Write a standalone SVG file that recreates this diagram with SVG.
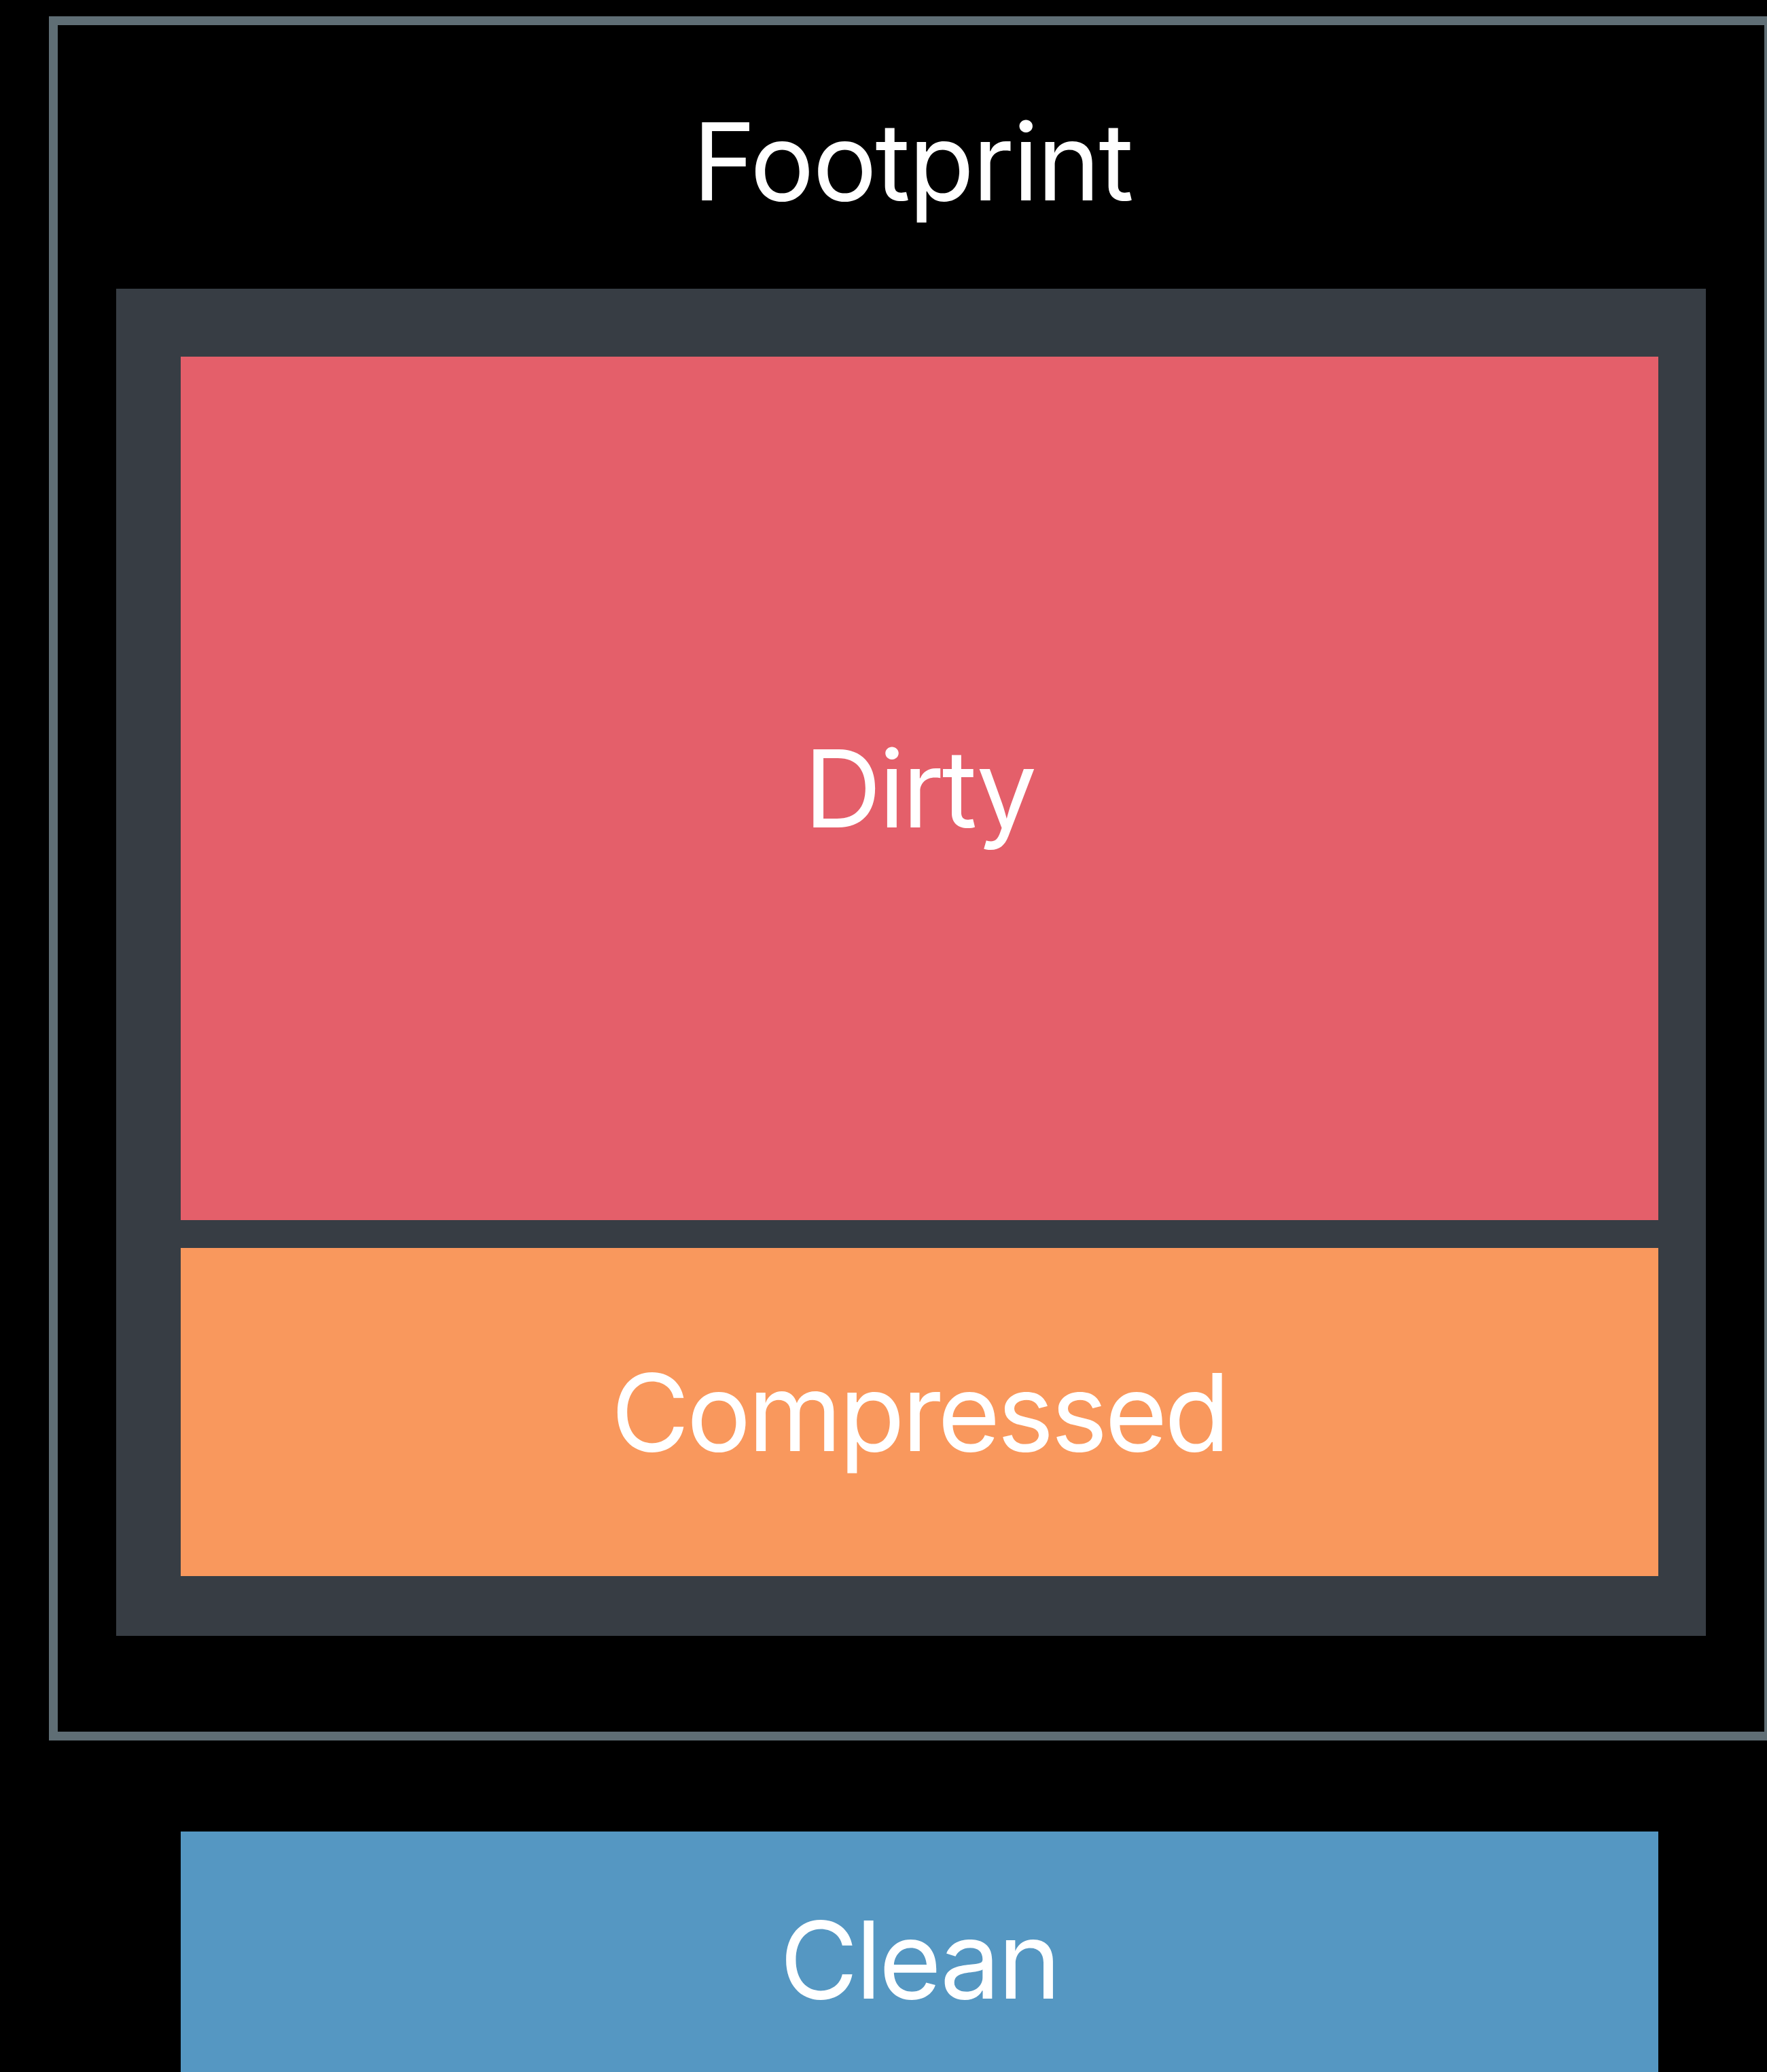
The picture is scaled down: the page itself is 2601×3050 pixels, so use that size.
<svg xmlns="http://www.w3.org/2000/svg" width="2601" height="3050" viewBox="0 0 2601 3050">
<style>
.lbl{font-family:Inter,"Liberation Sans",sans-serif;font-size:158px;fill:#ffffff;text-anchor:middle;letter-spacing:-3.8px}
</style>
<rect x="0" y="0" width="2601" height="3050" fill="#000000"/>
<g id="footprint">
<rect x="78.5" y="30.5" width="2525" height="2525" fill="none" stroke="#5f6e75" stroke-width="13"/>
<text class="lbl" x="1343" y="295" style="letter-spacing:-2.6px">Footprint</text>
</g>
<g id="panel">
<rect x="171" y="425" width="2340" height="1983" fill="#373d44"/>
</g>
<g id="dirty">
<rect x="266" y="525" width="2175" height="1271" fill="#e45f6a"/>
<text class="lbl" x="1353" y="1218">Dirty</text>
</g>
<g id="compressed">
<rect x="266" y="1837" width="2175" height="483" fill="#f9985d"/>
<text class="lbl" x="1353" y="2136" style="letter-spacing:-4.3px">Compressed</text>
</g>
<g id="clean">
<rect x="266" y="2696" width="2175" height="400" fill="#5597c2"/>
<text class="lbl" x="1353" y="2942">Clean</text>
</g>
<g id="connectors"/>
</svg>
